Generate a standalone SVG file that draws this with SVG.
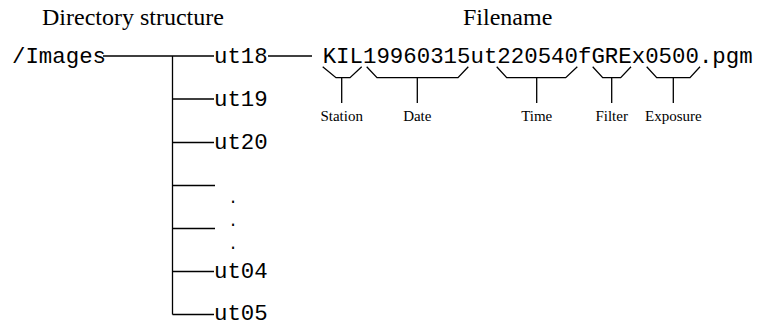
<svg xmlns="http://www.w3.org/2000/svg" width="767" height="325" viewBox="0 0 767 325">
<style>
.t{font-family:"Liberation Serif","Times New Roman",serif;font-size:24px;fill:#000}
.m{font-family:"Liberation Mono","Courier New",monospace;font-size:22.4px;fill:#000}
.d{font-family:"Liberation Mono","Courier New",monospace;font-size:16px;fill:#000;text-anchor:middle}
.l{font-family:"Liberation Serif","Times New Roman",serif;font-size:15px;fill:#000;text-anchor:middle}
.c{stroke:#000;stroke-width:1.3;fill:none}
</style>
<rect width="767" height="325" fill="#fff"/>
<text class="t" x="42" y="25">Directory structure</text>
<text class="t" x="463" y="25">Filename</text>
<g id="root"><text class="m" x="12" y="63">/Images</text></g>
<g id="ut18"><text class="m" x="214" y="63">ut18</text></g>
<g id="ut19"><text class="m" x="214" y="106">ut19</text></g>
<g id="ut20"><text class="m" x="214" y="149">ut20</text></g>
<g id="dots">
<text class="d" x="233" y="203">.</text>
<text class="d" x="233" y="226">.</text>
<text class="d" x="233" y="249">.</text>
</g>
<g id="ut04"><text class="m" x="214" y="278">ut04</text></g>
<g id="ut05"><text class="m" x="214" y="320">ut05</text></g>
<g id="filename"><text class="m" x="322.7" y="62.5">KIL19960315ut220540fGREx0500.pgm</text></g>
<g id="connectors" class="c">
<path d="M103 56H214M172.5 56V314.5M172.5 99H214M172.5 142.5H214M172.5 185.5H215M172.5 228.5H215M172.5 271.5H214M172.5 314.5H214"/>
<path d="M268 56H312"/>
<path d="M322.7 66.7L336 77.7H350L361.7 66.7M341.7 77.7V103"/>
<path d="M366.7 66.7L377 77.7H458L468.3 66.7M417.3 77.7V103"/>
<path d="M496.7 66.7L506.7 77.7H565.7L577.3 66.7M536.7 77.7V103"/>
<path d="M592.7 66.7L602.7 77.7H620.7L631 66.7M611.7 77.7V103"/>
<path d="M646.7 66.7L656.7 77.7H690L700 66.7M673.3 77.7V103"/>
</g>
<g id="labels">
<text class="l" x="341.7" y="121">Station</text>
<text class="l" x="417.3" y="121">Date</text>
<text class="l" x="536.7" y="121">Time</text>
<text class="l" x="611.7" y="121">Filter</text>
<text class="l" x="673.3" y="121">Exposure</text>
</g>
</svg>
